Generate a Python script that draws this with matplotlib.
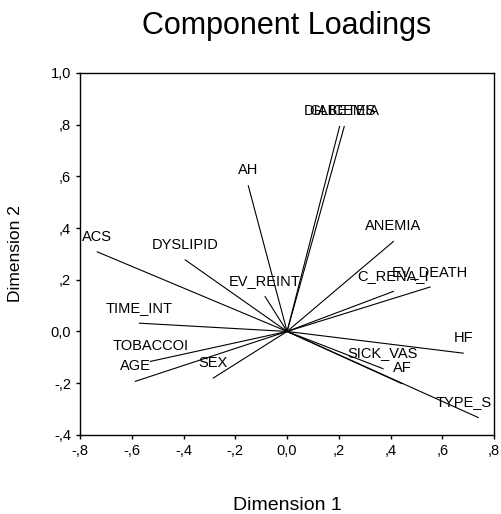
import matplotlib
matplotlib.use("Agg")
import matplotlib.pyplot as plt
from matplotlib.ticker import FuncFormatter

plt.rcParams['font.family'] = ['Liberation Sans', 'DejaVu Sans']

# component loadings (dimension 1, dimension 2)
variables = ['ACS', 'DYSLIPID', 'AH', 'DIABETES', 'GLICEMIA', 'ANEMIA',
             'EV_REINT', 'C_RENA_I', 'EV_DEATH', 'TIME_INT', 'TOBACCOI',
             'AGE', 'SEX', 'HF', 'SICK_VAS', 'AF', 'TYPE_S']
dim1 = [-0.734, -0.394, -0.150, 0.203, 0.221, 0.411,
        -0.085, 0.411, 0.553, -0.571, -0.529,
        -0.587, -0.285, 0.681, 0.371, 0.444, 0.739]
dim2 = [0.308, 0.277, 0.564, 0.793, 0.793, 0.348,
        0.135, 0.155, 0.172, 0.032, -0.116,
        -0.193, -0.180, -0.084, -0.144, -0.202, -0.333]

x_ticks = [-0.8, -0.6, -0.4, -0.2, 0.0, 0.2, 0.4, 0.6, 0.8]
y_ticks = [-0.4, -0.2, 0.0, 0.2, 0.4, 0.6, 0.8, 1.0]


def spss_fmt(v, pos):
    # SPSS style: comma decimal, no leading zero
    if abs(v) < 1e-9:
        return '0,0'
    s = f'{v:.1f}'.replace('.', ',')
    return s.replace('0,', ',')


fig = plt.figure(figsize=(5.01, 5.14), dpi=100)
ax = fig.add_axes([0.160, 0.154, 0.826, 0.704])

for name, x, y in zip(variables, dim1, dim2):
    ax.plot([0, x], [0, y], color='black', linewidth=0.8)
    if name == 'TYPE_S':
        ax.annotate(name, (x, y), xytext=(-31, 6), textcoords='offset points',
                    ha='left', va='bottom', fontsize=10.5, clip_on=True)
    else:
        ax.annotate(name, (x, y), xytext=(0, 6), textcoords='offset points',
                    ha='center', va='bottom', fontsize=10.5, clip_on=True)

ax.set_xlim(-0.8, 0.8)
ax.set_ylim(-0.4, 1.0)
ax.set_xticks(x_ticks)
ax.set_yticks(y_ticks)
ax.xaxis.set_major_formatter(FuncFormatter(spss_fmt))
ax.yaxis.set_major_formatter(FuncFormatter(spss_fmt))
ax.tick_params(direction='out', length=3, width=1, labelsize=10.5)
for sp in ax.spines.values():
    sp.set_linewidth(1)

ax.set_xlabel('Dimension 1', fontsize=14, labelpad=28)
ax.set_ylabel('Dimension 2', fontsize=12.5, labelpad=20)
fig.suptitle('Component Loadings', fontsize=22, x=0.573, y=0.978)

fig.savefig('out.png', dpi=100)
